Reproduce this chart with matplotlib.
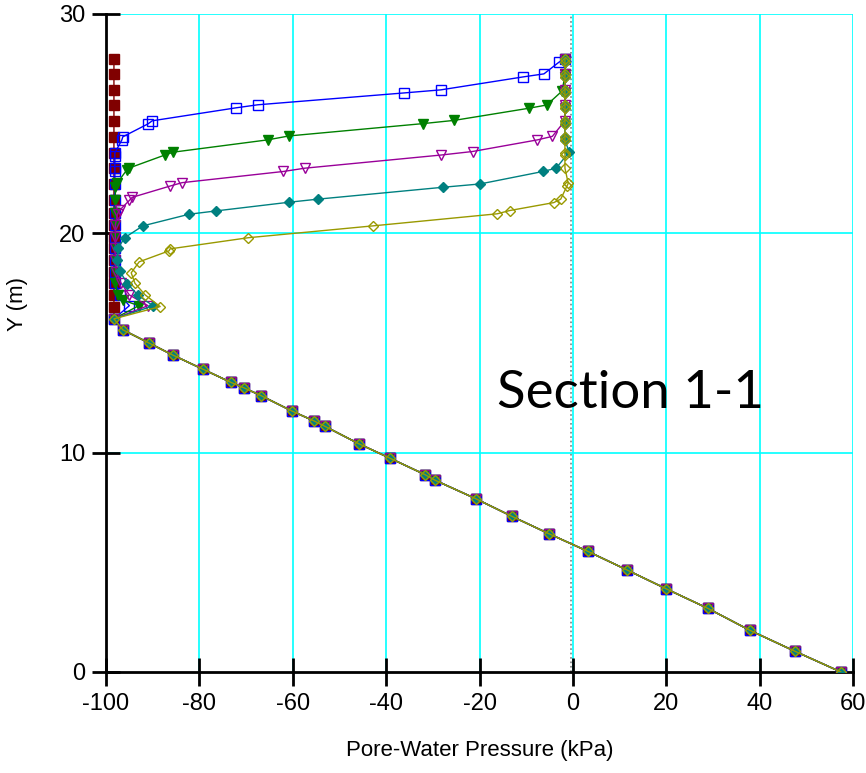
from matplotlib import pyplot as plt
import numpy as np

# shared hydrostatic part below y = 16 m (all curves overlap here)
diag_p = [-98.3, -96.4, -90.8, -85.7, -79.2, -73.2, -70.4, -66.8, -60.2, -55.5, -53.1, -45.8, -39.2,
          -31.7, -29.6, -20.8, -13.1, -5.1, 3.2, 11.6, 19.9, 28.9, 37.9, 47.5, 57.4]
diag_y = [16.1, 15.6, 15.0, 14.45, 13.8, 13.2, 12.95, 12.6, 11.9, 11.45, 11.2, 10.4, 9.75,
          9.0, 8.75, 7.9, 7.1, 6.3, 5.5, 4.65, 3.8, 2.9, 1.9, 0.95, 0.0]

# initial condition (dark red)
init_y = [27.95, 27.27, 26.54, 25.86, 25.13, 24.4, 23.67, 22.97, 22.25, 21.52, 20.93, 20.38,
          19.84, 19.33, 18.79, 18.24, 17.74, 17.19, 16.64]
init_p = [-98.3] * len(init_y)

blue_p = [-1.7, -3.0, -6.2, -10.7, -28.3, -36.2, -67.5, -72.2, -90.1, -91.0, -96.4, -96.6,
          -98.1, -98.1, -98.1, -98.1, -98.1, -98.1, -98.1, -98.1, -98.1, -98.1, -98.1, -98.1,
          -98.0, -97.0, -95.0]
blue_y = [27.95, 27.8, 27.27, 27.13, 26.54, 26.4, 25.86, 25.72, 25.13, 24.99, 24.4, 24.26,
          23.67, 23.53, 22.97, 22.82, 22.25, 21.52, 20.93, 20.38, 19.84, 19.33, 18.79, 18.24,
          17.74, 17.19, 16.7]

green_p = [-1.7, -1.7, -1.7, -1.7, -2.4, -5.6, -9.5, -25.4, -32.2, -60.8, -65.4, -85.6, -87.4,
           -95.0, -95.5, -97.6, -98.0, -98.0, -98.0, -98.0, -98.0, -98.0, -98.0, -98.0, -98.0,
           -97.5, -96.3, -93.0]
green_y = [27.95, 27.8, 27.27, 27.13, 26.47, 25.85, 25.7, 25.15, 25.0, 24.44, 24.26, 23.7, 23.57,
           22.98, 22.9, 22.3, 22.1, 21.52, 20.93, 20.38, 19.84, 19.33, 18.79, 18.24, 17.74,
           17.19, 16.95, 16.7]

purple_p = [-1.7, -1.7, -1.7, -1.7, -1.7, -1.7, -1.7, -1.7, -1.7, -4.4, -7.6, -21.5, -28.2,
            -57.4, -62.0, -83.7, -86.2, -94.4, -95.0, -97.0, -97.5, -98.0, -98.0, -98.0, -98.0,
            -97.8, -96.8, -95.0, -91.0]
purple_y = [27.95, 27.8, 27.27, 27.13, 26.54, 26.4, 25.86, 25.72, 25.13, 24.42, 24.26, 23.73,
            23.57, 22.97, 22.82, 22.31, 22.16, 21.64, 21.5, 21.07, 20.9, 20.38, 19.84, 19.33,
            18.79, 18.24, 17.74, 17.19, 16.7]

teal_p = [-1.7, -1.7, -1.7, -1.7, -1.7, -1.7, -1.7, -1.7, -1.7, -1.7, -1.7, -1.7, -0.8, -3.6,
          -6.4, -19.9, -27.8, -54.5, -60.7, -76.5, -82.2, -92.1, -96.0, -97.4, -97.6, -97.0,
          -95.4, -93.2, -89.9]
teal_y = [27.95, 27.8, 27.27, 27.13, 26.54, 26.4, 25.86, 25.72, 25.13, 24.99, 24.4, 24.26,
          23.7, 22.97, 22.82, 22.25, 22.1, 21.56, 21.42, 21.02, 20.87, 20.34, 19.8, 19.33,
          18.79, 18.26, 17.7, 17.19, 16.69]

olive_p = [-1.7, -1.7, -1.7, -1.7, -1.7, -1.7, -1.7, -1.7, -1.7, -1.7, -1.7, -1.7, -1.7, -1.7,
           -1.7, -1.0, -1.3, -2.6, -4.1, -13.5, -16.2, -42.8, -69.5, -86.3, -86.5, -92.9, -94.6,
           -93.8, -91.6, -88.4]
olive_y = [27.95, 27.8, 27.27, 27.13, 26.54, 26.4, 25.86, 25.72, 25.13, 24.99, 24.4, 24.26,
           23.67, 23.57, 22.97, 22.28, 22.14, 21.56, 21.4, 21.04, 20.89, 20.34, 19.8, 19.29,
           19.2, 18.7, 18.2, 17.72, 17.19, 16.66]

plt.rcParams['font.family'] = ['Liberation Sans Narrow', 'Liberation Sans', 'DejaVu Sans']
plt.rcParams['axes.unicode_minus'] = False

fig = plt.figure(figsize=(8.66, 7.73), dpi=100)
ax = fig.add_axes([0.1224, 0.1307, 0.8626, 0.8512])

series = [
    (init_p, init_y, "#800000", "s", "#800000", 7.5),
    (blue_p, blue_y, "#0000FF", "s", "none", 6.5),
    (green_p, green_y, "#008000", "v", "#008000", 7.5),
    (purple_p, purple_y, "#990099", "v", "none", 7),
    (teal_p, teal_y, "#008080", "D", "#008080", 5.5),
    (olive_p, olive_y, "#999900", "D", "none", 5.5),
]
for p, y, col, mk, face, ms in series:
    ax.plot(list(p) + diag_p, list(y) + diag_y, "-", color=col, lw=1, marker=mk,
            mfc=face, mec=col, ms=ms, mew=1, zorder=3)

ax.set_xlim(-100, 60)
ax.set_ylim(0, 30)
ax.set_xticks(np.arange(-100, 61, 20))
ax.set_yticks([0, 10, 20, 30])

# cyan grid
for gx in range(-80, 61, 20):
    ax.axvline(gx, color="#00FFFF", lw=1.2, zorder=1)
for gy in [10, 20, 30]:
    ax.axhline(gy, color="#00FFFF", lw=1.2, zorder=1)
ax.axvline(-0.4, color="gray", lw=1.2, ls=":", zorder=2)

ax.spines["top"].set_visible(False)
ax.spines["right"].set_visible(False)
ax.spines["left"].set_linewidth(2)
ax.spines["bottom"].set_linewidth(2)
ax.tick_params(direction="inout", length=20, width=2, labelsize=17, pad=5)

ax.set_xlabel("Pore-Water Pressure (kPa)", fontsize=16, labelpad=18)
ax.set_ylabel("Y (m)", fontsize=16)
ax.yaxis.set_label_coords(-0.105, 0.56)

ax.text(-16.3, 12.7, "Section 1-1", fontsize=38, va="center", ha="left",
        family=["Comic Sans MS", "Lato", "DejaVu Sans"])

plt.savefig("out.png", dpi=100)
